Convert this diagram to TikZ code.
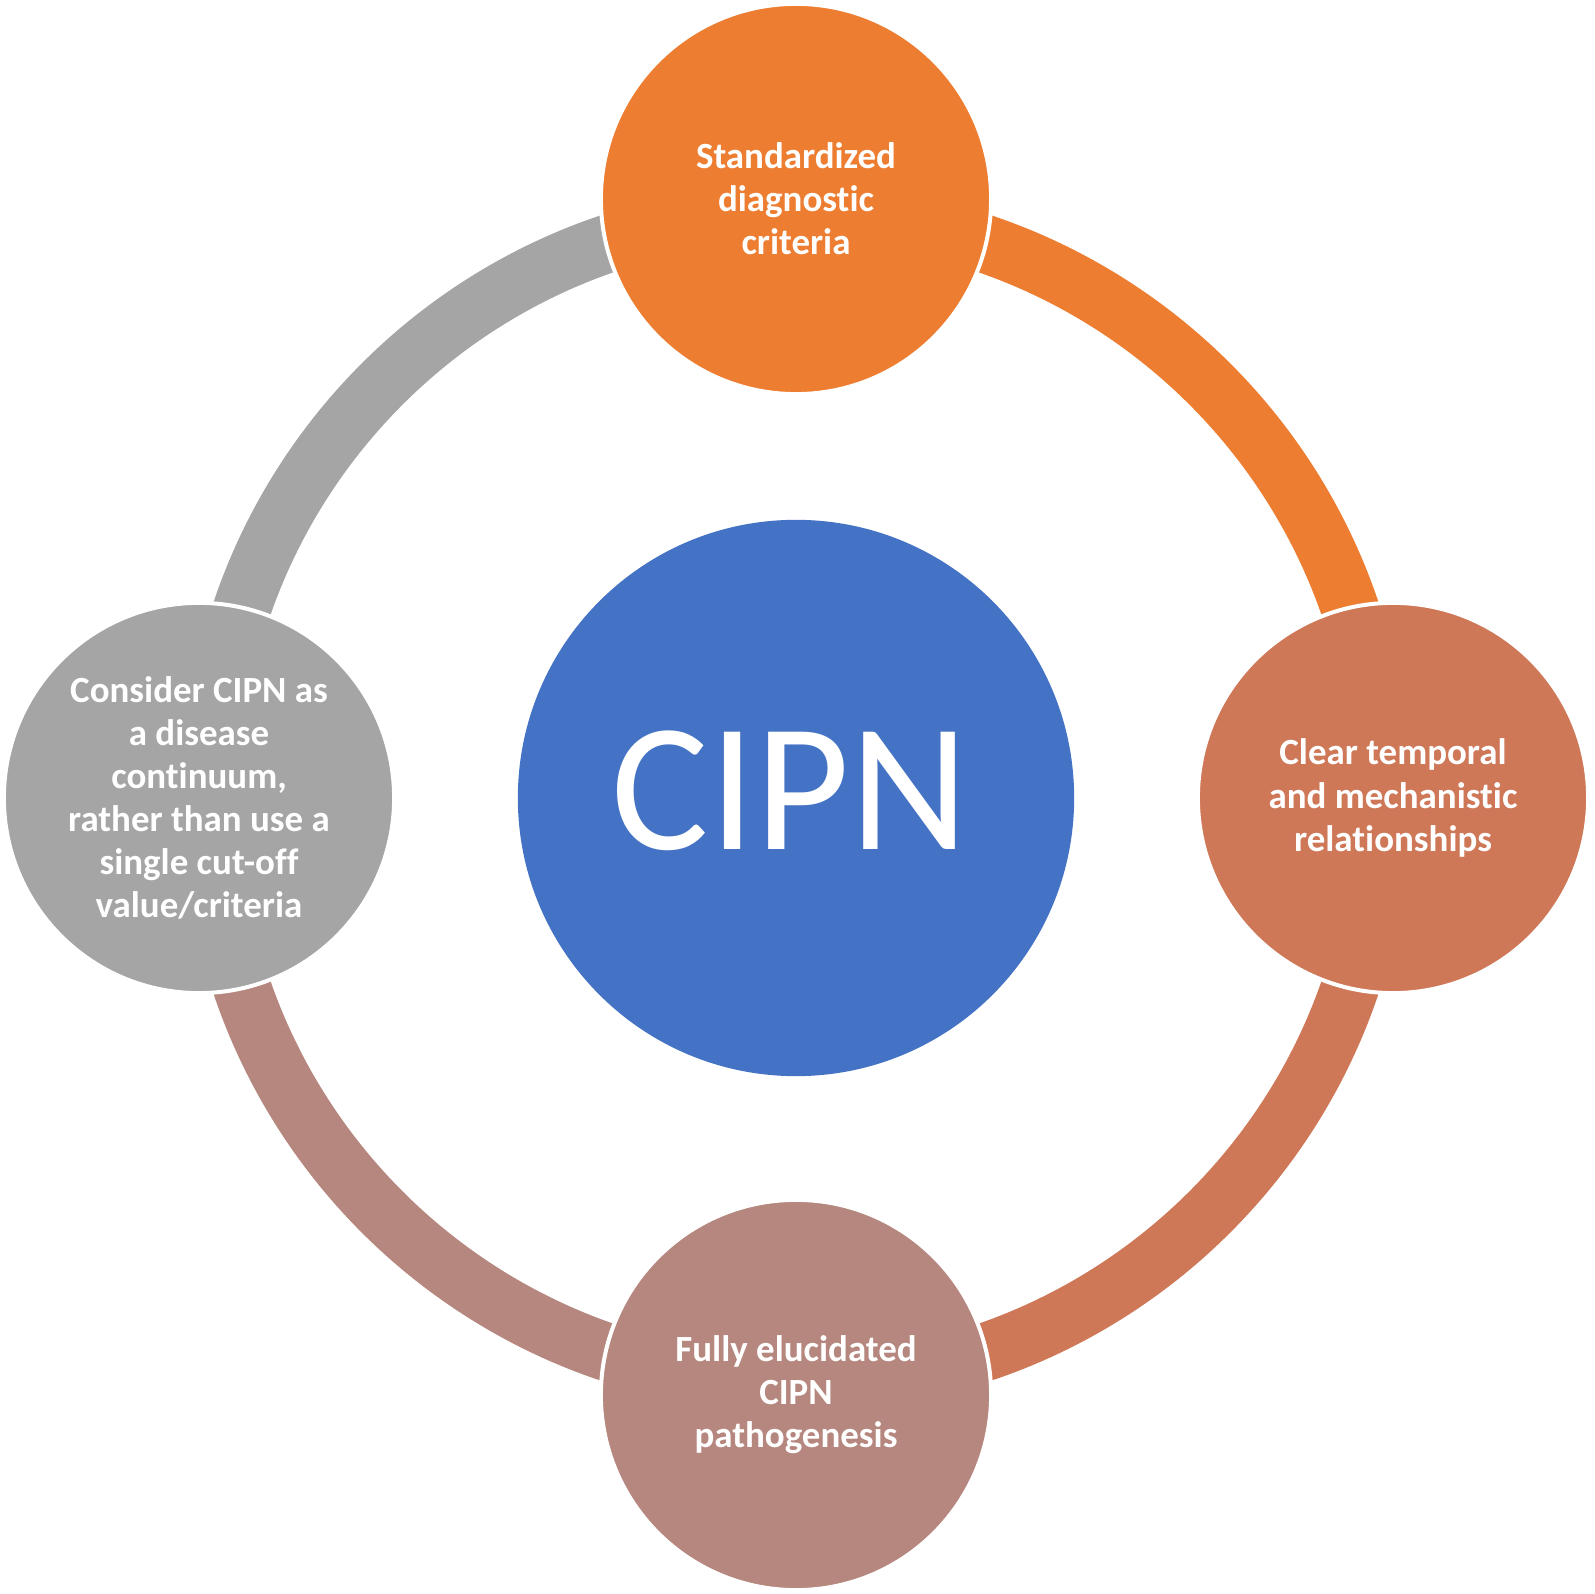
\documentclass[tikz,border=0pt]{standalone}
\usepackage{fontspec}
\setmainfont{Carlito}[Ligatures={NoCommon}]
\usetikzlibrary{calc}
\definecolor{corange}{HTML}{ED7D31}
\definecolor{cpeach}{HTML}{CE7858}
\definecolor{cmauve}{HTML}{B5877E}
\definecolor{cgray}{HTML}{A5A5A5}
\definecolor{cblue}{HTML}{4472C4}
\begin{document}
\begin{tikzpicture}[x=0.01cm,y=0.01cm,
  sat/.style={circle, minimum size=3.90cm, inner sep=0pt, draw=white, line width=0.04cm,
    text=white, align=center, font=\bfseries\fontsize{10.5}{12.25}\selectfont},
  ringseg/.style={line width=0.58cm},
  hubstyle/.style={circle, fill=cblue, minimum size=5.56cm, inner sep=0pt},
  hubtextstyle/.style={text=white, inner sep=0pt, font=\fontsize{52}{60}\selectfont}]
\useasboundingbox (0,0) rectangle (1594,1594);
\coordinate (c) at (796,796);
% ring segments
\draw[ringseg, corange] ($(c)+(90:5.85cm)$) arc[start angle=90, end angle=0, radius=5.85cm];
\draw[ringseg, cpeach] ($(c)+(0:5.85cm)$) arc[start angle=0, end angle=-90, radius=5.85cm];
\draw[ringseg, cmauve] ($(c)+(-90:5.85cm)$) arc[start angle=-90, end angle=-180, radius=5.85cm];
\draw[ringseg, cgray] ($(c)+(180:5.85cm)$) arc[start angle=180, end angle=90, radius=5.85cm];
% satellites
\node[sat, fill=corange] (top) at (796,1395) {Standardized\\diagnostic\\criteria};
\node[sat, fill=cpeach] (right) at (1393,796) {Clear temporal\\and mechanistic\\relationships};
\node[sat, fill=cmauve] (bottom) at (796,199) {Fully elucidated\\CIPN\\pathogenesis};
\node[sat, fill=cgray] (left) at (199,796) {Consider CIPN as\\a disease\\continuum,\\rather than use a\\single cut-off\\value/criteria};
% hub
\node[hubstyle] (hub) at (c) {};
\node[hubtextstyle] (hubtext) at (790,803) {CIPN};
\end{tikzpicture}
\end{document}
